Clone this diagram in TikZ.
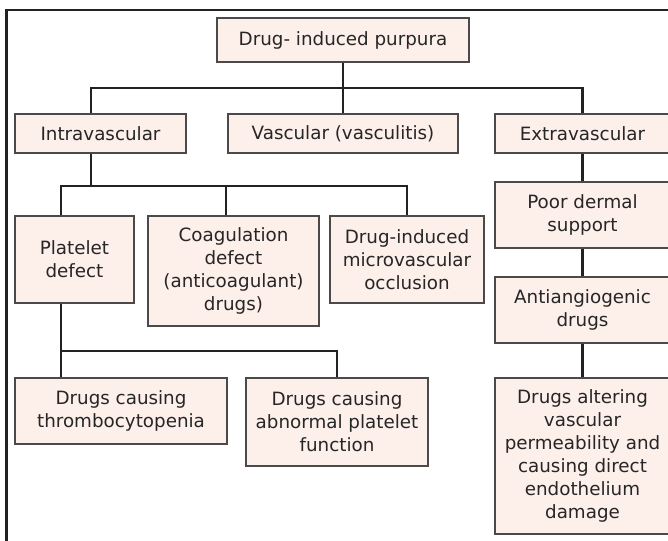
\documentclass[tikz,border=0pt]{standalone}
\usepackage{fontspec}
\setmainfont{DejaVu Sans}
\definecolor{boxfill}{HTML}{FDEFEA}
\definecolor{boxline}{HTML}{4A4A4A}
\definecolor{linkcol}{HTML}{222222}
\begin{document}
\begin{tikzpicture}[x=1pt,y=-1pt,
  box/.style={draw=boxline, line width=1.2pt, fill=boxfill, inner sep=0pt,
    align=center, text=black!85, font=\fontsize{18.3}{23}\selectfont},
  link/.style={draw=linkcol, line width=2.8pt},
  frame/.style={draw=linkcol, line width=2.8pt}]
\useasboundingbox (0,0) rectangle (668,540);

% outer frame (only its left and top edges fall inside the page)
\draw[frame] (6.5,560) -- (6.5,10) -- (690,10);

% boxes
\node[box, minimum width=252pt, minimum height=44pt] (root) at (343,40) {Drug- induced purpura};

\node[box, minimum width=171pt, minimum height=39pt] (intra) at (100.5,133.5) {Intravascular};
\node[box, minimum width=230pt, minimum height=39pt] (vasc) at (343,133.5) {Vascular (vasculitis)};
\node[box, minimum width=175pt, minimum height=39pt] (extra) at (582.5,133.5) {Extravascular};

\node[box, minimum width=119pt, minimum height=87pt] (platelet) at (74.5,259.5) {Platelet\\defect};
\node[box, minimum width=171pt, minimum height=110pt] (coag) at (233.5,271) {Coagulation\\defect\\(anticoagulant)\\drugs)};
\node[box, minimum width=154pt, minimum height=87pt] (micro) at (407,259.5) {Drug-induced\\microvascular\\occlusion};

\node[box, minimum width=175pt, minimum height=66pt] (poor) at (582.5,215) {Poor dermal\\support};
\node[box, minimum width=175pt, minimum height=66pt] (anti) at (582.5,310) {Antiangiogenic\\drugs};
\node[box, minimum width=175pt, minimum height=156pt] (alter) at (582.5,456) {Drugs altering\\vascular\\permeability and\\causing direct\\endothelium\\damage};

\node[box, minimum width=212pt, minimum height=66pt] (thrombo) at (121,411) {Drugs causing\\thrombocytopenia};
\node[box, minimum width=182pt, minimum height=88pt] (abnormal) at (337,422) {Drugs causing\\abnormal platelet\\function};

% junction points of the buses
\coordinate (j1) at (342,88);
\coordinate (j2) at (91,186);
\coordinate (j3) at (61,351);

% connectors
\draw[link] (root.south) -- (vasc.north);
\draw[link] ([xshift=-9.5pt]intra.north) |- (j1) -| (extra.north);

\draw[link] ([xshift=-9.5pt]intra.south) -- (j2);
\draw[link] ([xshift=-13.5pt]platelet.north) |- (j2) -| (micro.north);
\draw[link] ([xshift=-7.5pt]coag.north) -- ([xshift=-7.5pt]coag.north |- j2);

\draw[link] ([xshift=-13.5pt]platelet.south) -- ([xshift=-60pt]thrombo.north);
\draw[link] (j3) -| (abnormal.north);

\draw[link] (extra.south) -- (poor.north);
\draw[link] (poor.south) -- (anti.north);
\draw[link] (anti.south) -- (alter.north);
\end{tikzpicture}
\end{document}
